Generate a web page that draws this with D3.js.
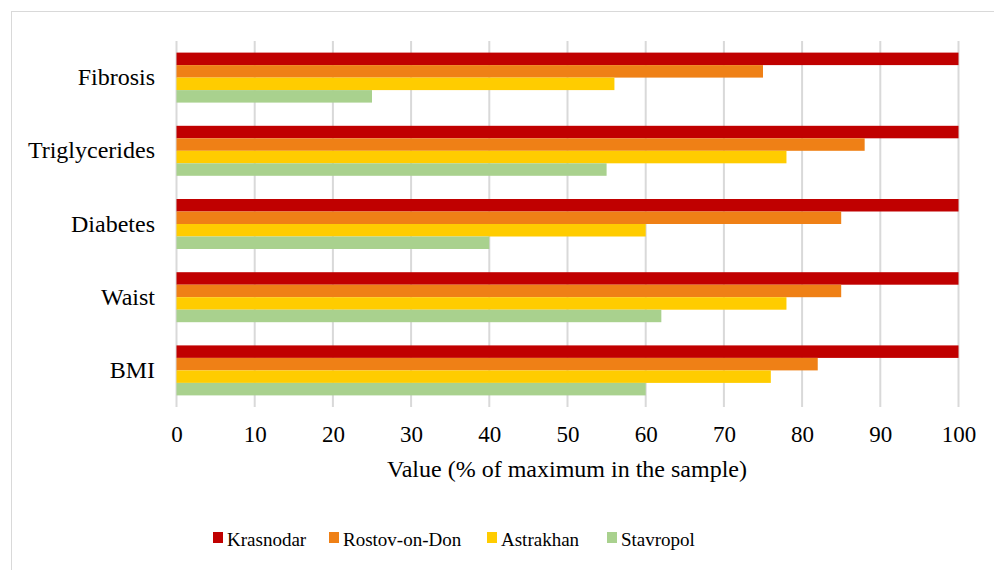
<!DOCTYPE html>
<html><head><meta charset="utf-8">
<script src="https://cdn.jsdelivr.net/npm/d3@7"></script>
<style>body{margin:0;background:#fff}svg{display:block}</style>
</head><body><svg id="c" width="994" height="570"></svg>
<script>
const categories = ["Fibrosis","Triglycerides","Diabetes","Waist","BMI"];
const seriesNames = ["Krasnodar","Rostov-on-Don","Astrakhan","Stavropol"];
const krasnodar = [100,100,100,100,100];
const rostov = [75,88,85,85,82];
const astrakhan = [56,78,60,78,76];
const stavropol = [25,55,40,62,60];
const xTicks = [0,10,20,30,40,50,60,70,80,90,100];
const colors = ["#C00000","#EF8016","#FFCC00","#A9D18E"];
const seriesValues = [krasnodar, rostov, astrakhan, stavropol];
const FONT = "Liberation Serif, DejaVu Serif, serif";

const svg = d3.select("#c");
svg.append("rect").attr("x",11.5).attr("y",11.5).attr("width",1000).attr("height",600)
  .attr("fill","none").attr("stroke","#D9D9D9").attr("stroke-width",1);

const x = d3.scaleLinear().domain([0,100]).range([176.5,958.5]);
const y = d3.scaleBand().domain(categories).range([41,407]).paddingInner(0.317).paddingOuter(0.1585);
const ys = d3.scaleBand().domain(seriesNames).range([0,y.bandwidth()]);

svg.append("g").selectAll("line").data(xTicks).join("line")
  .attr("x1",d=>x(d)).attr("x2",d=>x(d)).attr("y1",41).attr("y2",407)
  .attr("stroke","#D9D9D9").attr("stroke-width",2);

const g = svg.append("g");
categories.forEach((c,i)=>{
  seriesNames.forEach((s,j)=>{
    g.append("rect").attr("x",x(0)).attr("y",y(c)+ys(s))
     .attr("width",x(seriesValues[j][i])-x(0)).attr("height",ys.bandwidth())
     .attr("fill",colors[j]);
  });
});

const xAxis = d3.axisBottom(x).tickValues(xTicks).tickSize(0).tickPadding(0);
const xa = svg.append("g").attr("transform","translate(0,426)").call(xAxis);
xa.select(".domain").remove();
xa.selectAll("text").attr("font-size",23).attr("dy","0.71em").attr("fill","#000").style("font-family",FONT);

const yAxis = d3.axisLeft(y).tickSize(0).tickPadding(0);
const ya = svg.append("g").attr("transform","translate(155,0)").call(yAxis);
ya.select(".domain").remove();
ya.selectAll("text").attr("font-size",24).attr("fill","#000").style("font-family",FONT);

svg.append("text").attr("x",567).attr("y",477).attr("text-anchor","middle").attr("font-size",24)
  .style("font-family",FONT).text("Value (% of maximum in the sample)");

const legX = [213,329,487,607];
const lg = svg.append("g");
seriesNames.forEach((s,j)=>{
  lg.append("rect").attr("x",legX[j]).attr("y",532).attr("width",10).attr("height",11).attr("fill",colors[j]);
  lg.append("text").attr("x",legX[j]+14).attr("y",546).attr("font-size",19).style("font-family",FONT).text(s);
});
</script></body></html>
